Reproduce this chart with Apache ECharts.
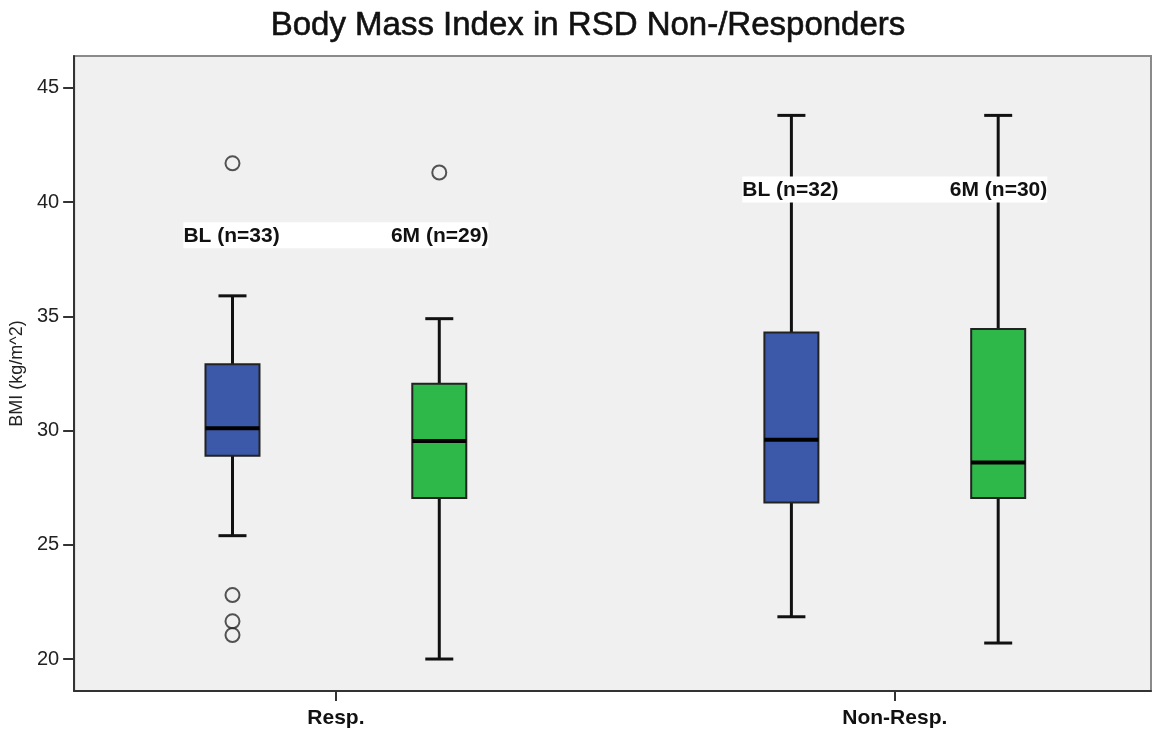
<!DOCTYPE html>
<html>
<head>
<meta charset="utf-8">
<script src="https://cdn.jsdelivr.net/npm/echarts@6/dist/echarts.min.js"></script>
<style>
  html, body { margin: 0; padding: 0; background: #fff; }
  #chart { width: 1153px; height: 731px; }
</style>
</head>
<body>
<div id="chart"></div>
<script>
// Groups along the x axis and the two time points shown per group
const groups = ['Resp.', 'Non-Resp.'];
const timepoints = ['BL', '6M'];

// Box statistics per group: [lower whisker, Q1, median, Q3, upper whisker]
const boxBL = [
  [25.4, 28.9, 30.1, 32.9, 35.9],
  [21.85, 26.85, 29.6, 34.3, 43.8]
];
const box6M = [
  [20.0, 27.05, 29.55, 32.05, 34.9],
  [20.7, 27.05, 28.6, 34.45, 43.8]
];

// Outliers per group
const outBL = [[41.7, 22.8, 21.65, 21.05], []];
const out6M = [[41.3], []];

// Sample sizes shown in the group annotations
const nBL = [33, 32];
const n6M = [29, 30];
// Value at which each group's annotation row sits
const noteY = [38.55, 40.55];

// Tick labels of the BMI axis
const yTicks = [20, 25, 30, 35, 40, 45];

const colors = { BL: '#3c58a9', '6M': '#2eb84a' };
const SHIFT = 0.185;       // horizontal offset of each time point from its group centre
const BOX_W = 54;          // box width in px
const CAP_W = 28;          // whisker cap width in px

// Build rows for the custom box series: [x, low, q1, med, q3, high, tpIndex]
const boxRows = [];
groups.forEach((g, gi) => {
  boxRows.push([gi + 1 - SHIFT, ...boxBL[gi], 0]);
  boxRows.push([gi + 1 + SHIFT, ...box6M[gi], 1]);
});

const outlierRows = [];
groups.forEach((g, gi) => {
  outBL[gi].forEach(v => outlierRows.push([gi + 1 - SHIFT, v]));
  out6M[gi].forEach(v => outlierRows.push([gi + 1 + SHIFT, v]));
});

const noteRows = groups.map((g, gi) => [gi + 1, noteY[gi]]);

const chart = echarts.init(document.getElementById('chart'), null, { renderer: 'canvas' });

const fontFamily = '"Liberation Sans", Arial, sans-serif';

chart.setOption({
  backgroundColor: '#ffffff',
  animation: false,
  title: {
    text: 'Body Mass Index in RSD Non-/Responders',
    left: 583,
    top: 4,
    textAlign: 'center',
    textStyle: {
      fontFamily, fontSize: 33, fontWeight: 'normal', color: '#111',
      textBorderColor: '#111', textBorderWidth: 0.6
    }
  },
  grid: {
    left: 73, right: 2, top: 56, bottom: 40,
    show: true,
    backgroundColor: '#f0f0f0',
    borderColor: '#8a8a8a',
    borderWidth: 2
  },
  xAxis: {
    type: 'value',
    min: 0.5317,
    max: 2.4584,
    splitLine: { show: false },
    axisLine: { show: true, onZero: false, lineStyle: { color: '#333', width: 2 } },
    axisTick: {
      show: true, length: 10, customValues: [1, 2],
      lineStyle: { color: '#333', width: 2 }
    },
    axisLabel: {
      customValues: [1, 2],
      formatter: v => groups[Math.round(v) - 1] || '',
      fontFamily, fontSize: 21, fontWeight: 'bold', color: '#111', margin: 17
    }
  },
  yAxis: {
    type: 'value',
    min: 18.6,
    max: 46.4,
    name: 'BMI (kg/m^2)',
    nameLocation: 'middle',
    nameGap: 44,
    nameRotate: 90,
    nameTextStyle: { fontFamily, fontSize: 18, color: '#222' },
    splitLine: { show: false },
    axisLine: { show: true, onZero: false, lineStyle: { color: '#333', width: 2 } },
    axisTick: {
      show: true, length: 11, customValues: yTicks,
      lineStyle: { color: '#333', width: 2 }
    },
    axisLabel: {
      customValues: yTicks,
      fontFamily, fontSize: 20, color: '#222', margin: 15
    }
  },
  series: [
    {
      type: 'custom',
      name: 'boxes',
      data: boxRows,
      encode: { x: 0, y: [1, 2, 3, 4, 5] },
      renderItem: (params, api) => {
        const x = api.value(0);
        const low = api.coord([x, api.value(1)]);
        const q1 = api.coord([x, api.value(2)]);
        const med = api.coord([x, api.value(3)]);
        const q3 = api.coord([x, api.value(4)]);
        const high = api.coord([x, api.value(5)]);
        const cx = low[0];
        const fill = colors[timepoints[api.value(6)]];
        const wStyle = { stroke: '#111', lineWidth: 3 };
        return {
          type: 'group',
          children: [
            { type: 'line', shape: { x1: cx, y1: high[1], x2: cx, y2: q3[1] }, style: wStyle },
            { type: 'line', shape: { x1: cx, y1: q1[1], x2: cx, y2: low[1] }, style: wStyle },
            { type: 'line', shape: { x1: cx - CAP_W / 2, y1: high[1], x2: cx + CAP_W / 2, y2: high[1] }, style: wStyle },
            { type: 'line', shape: { x1: cx - CAP_W / 2, y1: low[1], x2: cx + CAP_W / 2, y2: low[1] }, style: wStyle },
            {
              type: 'rect',
              shape: { x: cx - BOX_W / 2, y: q3[1], width: BOX_W, height: q1[1] - q3[1] },
              style: { fill, stroke: '#222', lineWidth: 2 }
            },
            {
              type: 'line',
              shape: { x1: cx - BOX_W / 2, y1: med[1], x2: cx + BOX_W / 2, y2: med[1] },
              style: { stroke: '#000', lineWidth: 4 }
            }
          ]
        };
      },
      z: 2
    },
    {
      type: 'scatter',
      name: 'outliers',
      data: outlierRows,
      symbol: 'circle',
      symbolSize: 14,
      itemStyle: { color: 'rgba(0,0,0,0)', borderColor: '#2a2a2a', borderWidth: 2 },
      z: 3
    },
    {
      type: 'custom',
      name: 'notes',
      data: noteRows,
      encode: { x: 0, y: 1 },
      renderItem: (params, api) => {
        const p = api.coord([api.value(0), api.value(1)]);
        const gi = params.dataIndex;
        const W = 305, H = 26;
        const textStyle = { fontFamily, fontSize: 21, fontWeight: 'bold', fill: '#111' };
        return {
          type: 'group',
          children: [
            { type: 'rect', shape: { x: p[0] - W / 2, y: p[1] - H / 2, width: W, height: H }, style: { fill: '#ffffff' } },
            {
              type: 'text', x: p[0] - W / 2, y: p[1] + 1,
              style: Object.assign({ text: timepoints[0] + ' (n=' + nBL[gi] + ')', align: 'left', verticalAlign: 'middle' }, textStyle)
            },
            {
              type: 'text', x: p[0] + W / 2, y: p[1] + 1,
              style: Object.assign({ text: timepoints[1] + ' (n=' + n6M[gi] + ')', align: 'right', verticalAlign: 'middle' }, textStyle)
            }
          ]
        };
      },
      z: 4
    }
  ]
});
</script>
</body>
</html>
